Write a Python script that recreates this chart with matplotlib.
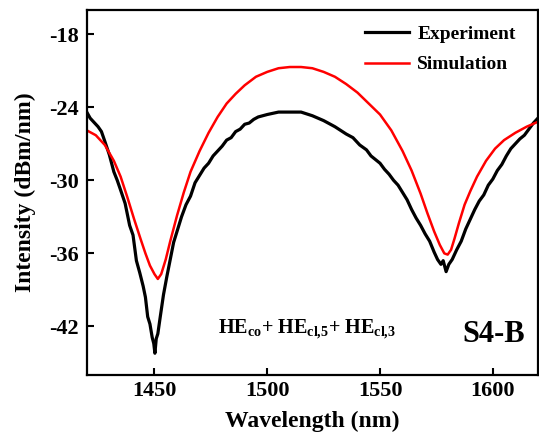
import numpy as np
import matplotlib
matplotlib.use('Agg')
import matplotlib.pyplot as plt

plt.rcParams['font.family'] = ['Liberation Serif', 'DejaVu Serif']
plt.rcParams['font.weight'] = 'bold'
plt.rcParams['axes.unicode_minus'] = False
plt.rcParams['mathtext.fontset'] = 'custom'
plt.rcParams['mathtext.rm'] = 'Liberation Serif:bold'
plt.rcParams['mathtext.it'] = 'Liberation Serif:bold'
plt.rcParams['mathtext.bf'] = 'Liberation Serif:bold'

# measured spectrum
exp_wl = [1420, 1421.5, 1423, 1425, 1426.5, 1428, 1430, 1432, 1433.5, 1435, 1437, 1439, 1440.5,
          1442, 1443.5, 1445, 1446, 1447, 1448, 1449, 1449.7, 1450.2, 1450.8, 1451.5, 1452.5,
          1454, 1455.5, 1457, 1458.5, 1460, 1462, 1464, 1466, 1468, 1470, 1472, 1474, 1476,
          1478, 1480, 1482, 1484, 1486, 1488, 1490, 1492, 1494, 1496, 1500, 1505, 1510, 1515,
          1520, 1525, 1530, 1535, 1538, 1541, 1544, 1546, 1548, 1550, 1552, 1554, 1556, 1558,
          1560, 1562, 1564, 1566, 1568, 1570, 1572, 1574, 1575.5, 1577, 1578, 1579.3, 1580.5,
          1582, 1584, 1586, 1588, 1590, 1592, 1594, 1596, 1598, 1600, 1602, 1604, 1606, 1608,
          1610, 1612, 1614, 1616, 1618, 1620]
exp_val = [-24.4, -24.9, -25.2, -25.6, -26.0, -26.8, -27.9, -29.3, -30.0, -30.8, -31.9, -33.7, -34.5,
           -36.6, -37.6, -38.7, -39.6, -41.2, -41.8, -42.9, -43.4, -44.2, -43.0, -42.6, -41.3,
           -39.4, -37.9, -36.5, -35.1, -34.2, -33.0, -32.0, -31.3, -30.2, -29.6, -29.0, -28.6, -28.0,
           -27.6, -27.2, -26.7, -26.5, -26.0, -25.8, -25.4, -25.3, -25.0, -24.8, -24.6, -24.4, -24.4, -24.4,
           -24.7, -25.1, -25.6, -26.2, -26.5, -27.1, -27.5, -28.0, -28.3, -28.6, -29.1, -29.5, -30.0, -30.4,
           -31.0, -31.6, -32.4, -33.1, -33.7, -34.4, -35.0, -35.9, -36.5, -36.9, -36.6, -37.5, -36.9,
           -36.5, -35.7, -35.0, -34.0, -33.2, -32.4, -31.7, -31.2, -30.4, -29.9, -29.2, -28.7, -28.0, -27.4,
           -27.0, -26.6, -26.3, -25.8, -25.3, -24.9]

# simulated spectrum
sim_wl = [1420, 1424, 1428, 1432, 1435, 1438, 1441, 1444, 1446, 1448, 1450, 1451.5, 1453, 1455,
          1457, 1460, 1463, 1466, 1470, 1474, 1478, 1482, 1486, 1490, 1495, 1500, 1505, 1510,
          1515, 1520, 1525, 1530, 1535, 1540, 1545, 1550, 1555, 1560, 1564, 1568, 1571, 1574,
          1576.5, 1578.5, 1580, 1581.5, 1583, 1585, 1587.5, 1590, 1593, 1597, 1601, 1605, 1610,
          1615, 1620]
sim_val = [-25.9, -26.3, -27.1, -28.4, -29.7, -31.4, -33.2, -34.9, -36.0, -37.0, -37.7, -38.1, -37.7, -36.5,
           -35.0, -32.9, -31.0, -29.3, -27.6, -26.1, -24.8, -23.7, -22.9, -22.2, -21.5, -21.1, -20.8, -20.7,
           -20.7, -20.8, -21.1, -21.5, -22.1, -22.8, -23.7, -24.6, -25.9, -27.6, -29.2, -31.1, -32.7, -34.2,
           -35.3, -36.0, -36.1, -35.7, -34.8, -33.5, -32.0, -30.9, -29.7, -28.4, -27.4, -26.7, -26.1,
           -25.6, -25.2]

xticks = [1450, 1500, 1550, 1600]
yticks = [-18, -24, -30, -36, -42]

fig = plt.figure(figsize=(5.39, 4.44), dpi=100)
ax = fig.add_axes([0.161, 0.155, 0.837, 0.823])
ax.plot(exp_wl, exp_val, color='black', lw=2.3, label='Experiment')
ax.plot(sim_wl, sim_val, color='#ff0000', lw=1.8, label='Simulation')

ax.set_xlim(1420, 1620)
ax.set_ylim(-46, -16)
ax.set_xticks(xticks)
ax.set_yticks(yticks)
ax.tick_params(direction='in', length=5, width=1.5, labelsize=16)
ax.tick_params(axis='x', pad=4)
ax.tick_params(axis='y', pad=6)
for sp in ax.spines.values():
    sp.set_linewidth(1.6)
ax.set_xlabel('Wavelength (nm)', fontsize=17, fontweight='bold', labelpad=7)
ax.set_ylabel('Intensity (dBm/nm)', fontsize=17, fontweight='bold', labelpad=9)

ax.legend(loc='upper right', frameon=False, fontsize=14, handlelength=2.3, handletextpad=0.4,
          borderaxespad=0.3, labelspacing=0.66, borderpad=0.5, bbox_to_anchor=(0.985, 1.0))

ax.text(0.488, 0.125, r'$\mathrm{HE_{co}}$+ $\mathrm{HE_{cl{,}5}}$+ $\mathrm{HE_{cl{,}3}}$',
        transform=ax.transAxes, ha='center', va='center', fontsize=14.5)
ax.text(0.901, 0.11, 'S4-B', transform=ax.transAxes, ha='center', va='center',
        fontsize=22, fontweight='bold')

fig.savefig('out.png', dpi=100)
